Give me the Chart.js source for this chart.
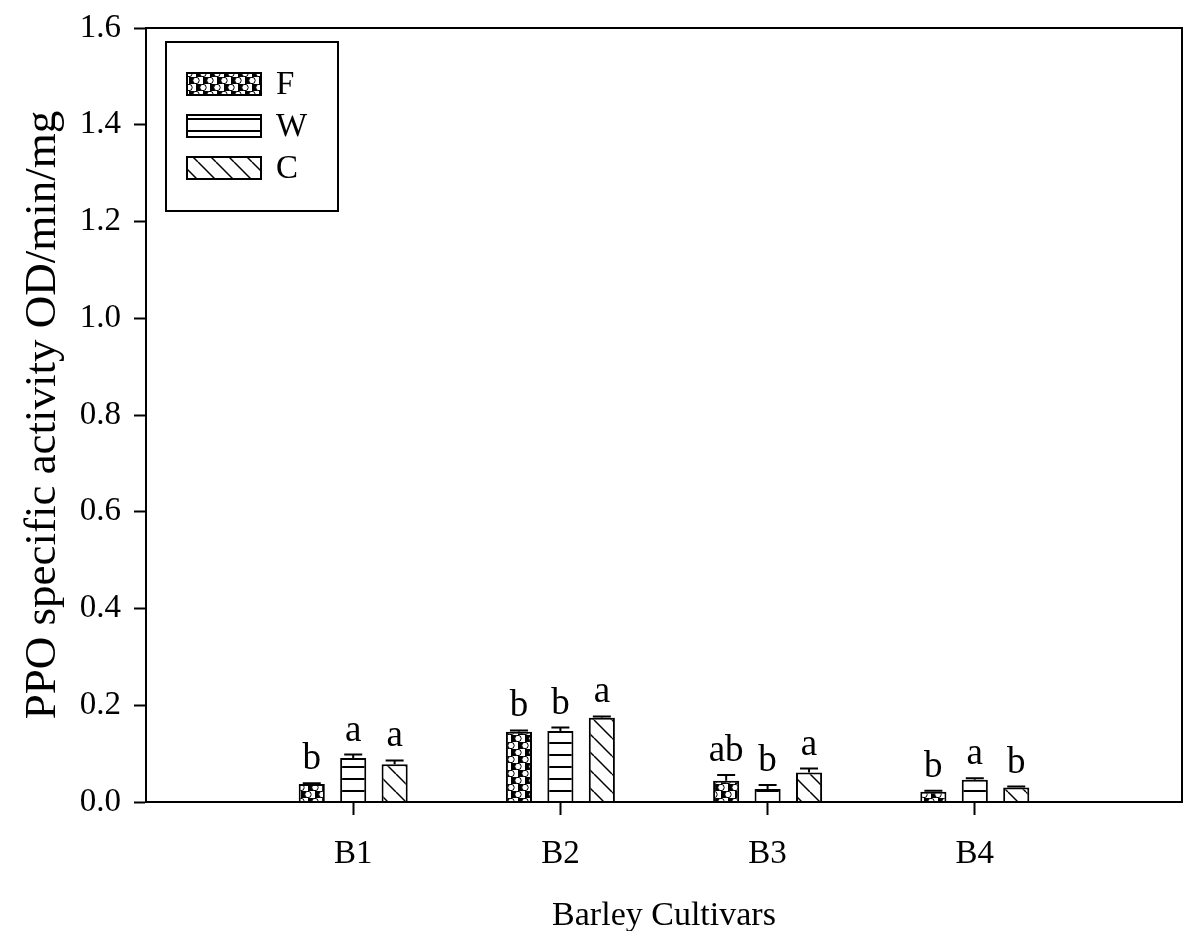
<!DOCTYPE html>
<html>
<head>
<meta charset="utf-8">
<script src="https://cdn.jsdelivr.net/npm/chart.js@4"></script>
<style>
  html, body { margin: 0; padding: 0; background: #fff; }
  canvas { display: block; }
</style>
</head>
<body>
<canvas id="chart" width="1184" height="931"></canvas>
<script>
// Barley cultivars and PPO specific activity per treatment
const cultivars = ['B1', 'B2', 'B3', 'B4'];
const seriesNames = ['F', 'W', 'C'];
const valuesF = [0.037, 0.145, 0.044, 0.021];
const valuesW = [0.091, 0.147, 0.027, 0.046];
const valuesC = [0.078, 0.174, 0.061, 0.030];
const errorsF = [0.002, 0.003, 0.012, 0.002];
const errorsW = [0.007, 0.007, 0.008, 0.003];
const errorsC = [0.008, 0.003, 0.008, 0.002];
const lettersF = ['b', 'b', 'ab', 'b'];
const lettersW = ['a', 'b', 'b', 'a'];
const lettersC = ['a', 'a', 'a', 'b'];
const yTicks = [0, 0.2, 0.4, 0.6, 0.8, 1.0, 1.2, 1.4, 1.6];

const SERIF = "'Liberation Serif', 'Times New Roman', serif";

// Fill patterns: dotted checker, horizontal lines, diagonal hatch
function makePattern(kind) {
  const c = document.createElement('canvas');
  const g = c.getContext('2d');
  if (kind === 'F') {
    c.width = 14; c.height = 14;
    g.fillStyle = '#fff'; g.fillRect(0, 0, 14, 14);
    g.fillStyle = '#000';
    g.fillRect(0, 0, 7, 7); g.fillRect(7, 7, 7, 7);
    g.lineWidth = 1; g.strokeStyle = '#000'; g.fillStyle = '#fff';
    [[7, 3.5], [0, 10.5], [14, 10.5]].forEach(([x, y]) => {
      g.beginPath(); g.arc(x, y, 3.2, 0, Math.PI * 2); g.fill(); g.stroke();
    });
  } else if (kind === 'W') {
    c.width = 12; c.height = 12;
    g.fillStyle = '#fff'; g.fillRect(0, 0, 12, 12);
    g.fillStyle = '#000'; g.fillRect(0, 10, 12, 2);
  } else {
    const s = 18;
    c.width = s; c.height = s;
    g.fillStyle = '#fff'; g.fillRect(0, 0, s, s);
    g.strokeStyle = '#000'; g.lineWidth = 1.5;
    for (let k = -1; k <= 1; k++) {
      g.beginPath(); g.moveTo(k * s, 0); g.lineTo(k * s + s, s); g.stroke();
    }
  }
  return g.createPattern(c, 'repeat');
}

const pad = arr => [null, ...arr, null];
const labels = ['', ...cultivars, ''];

const seriesValues = [valuesF, valuesW, valuesC];
const seriesErrors = [errorsF, errorsW, errorsC];
const seriesLetters = [lettersF, lettersW, lettersC];

const datasets = seriesNames.map((name, i) => ({
  label: name,
  data: pad(seriesValues[i]),
  errors: pad(seriesErrors[i]),
  letters: pad(seriesLetters[i]),
  backgroundColor: makePattern(name),
  borderColor: '#000',
  borderWidth: 2,
  barPercentage: 0.63,
  categoryPercentage: 0.6
}));

// Error bars and significance letters above each bar
const errorBarPlugin = {
  id: 'errorBars',
  afterDatasetsDraw(chart) {
    const ctx = chart.ctx;
    const y = chart.scales.y;
    ctx.save();
    chart.data.datasets.forEach((ds, di) => {
      const meta = chart.getDatasetMeta(di);
      meta.data.forEach((bar, i) => {
        const v = ds.data[i];
        if (v == null) return;
        const top = y.getPixelForValue(v + ds.errors[i]);
        const base = y.getPixelForValue(v);
        ctx.strokeStyle = '#000';
        ctx.lineWidth = 2;
        ctx.beginPath();
        ctx.moveTo(bar.x, base); ctx.lineTo(bar.x, top);
        ctx.moveTo(bar.x - 9, top); ctx.lineTo(bar.x + 9, top);
        ctx.stroke();
        ctx.fillStyle = '#000';
        ctx.font = '37px ' + SERIF;
        ctx.textAlign = 'center';
        ctx.textBaseline = 'alphabetic';
        ctx.fillText(ds.letters[i], bar.x, top - 14);
      });
    });
    ctx.restore();
  }
};

// Frame around the plotting area and the boxed legend
const framePlugin = {
  id: 'frame',
  afterDraw(chart) {
    const { ctx, chartArea: a } = chart;
    ctx.save();
    ctx.strokeStyle = '#000';
    ctx.lineWidth = 2;
    ctx.strokeRect(a.left, a.top, a.right - a.left, a.bottom - a.top);

    const lx = a.left + 20, ly = a.top + 14, lw = 172, lh = 169;
    ctx.strokeRect(lx, ly, lw, lh);
    chart.data.datasets.forEach((ds, i) => {
      const sy = ly + 31 + i * 42;
      ctx.fillStyle = ds.backgroundColor;
      ctx.fillRect(lx + 21, sy, 74, 22);
      ctx.strokeRect(lx + 21, sy, 74, 22);
      ctx.fillStyle = '#000';
      ctx.font = '33px ' + SERIF;
      ctx.textAlign = 'left';
      ctx.textBaseline = 'middle';
      ctx.fillText(ds.label, lx + 110, sy + 12);
    });
    ctx.restore();
  }
};

new Chart(document.getElementById('chart'), {
  type: 'bar',
  data: { labels, datasets },
  plugins: [errorBarPlugin, framePlugin],
  options: {
    responsive: false,
    animation: false,
    layout: { padding: { left: 0, right: 2, top: 28, bottom: 0 } },
    plugins: {
      legend: { display: false },
      tooltip: { enabled: false }
    },
    scales: {
      x: {
        offset: false,
        grid: {
          offset: false,
          drawOnChartArea: false,
          tickLength: 13,
          tickWidth: 2,
          tickColor: ctx => (ctx.tick && ctx.tick.label) ? '#000' : 'rgba(0,0,0,0)'
        },
        border: { color: '#000', width: 2 },
        ticks: {
          color: '#000',
          padding: 20,
          autoSkip: false,
          maxRotation: 0,
          font: { family: SERIF, size: 33 }
        },
        title: {
          display: true,
          text: 'Barley Cultivars',
          color: '#000',
          font: { family: SERIF, size: 34, lineHeight: 1 },
          padding: { top: 0, bottom: -2 }
        },
        afterFit(scale) {
          scale.height = 129;
          scale.paddingLeft = 0;
          scale.paddingRight = 0;
        }
      },
      y: {
        min: 0,
        max: 1.6,
        afterBuildTicks(scale) { scale.ticks = yTicks.map(v => ({ value: v })); },
        grid: {
          drawOnChartArea: false,
          tickLength: 12,
          tickWidth: 2,
          tickColor: '#000'
        },
        border: { color: '#000', width: 2 },
        ticks: {
          color: '#000',
          padding: 13,
          font: { family: SERIF, size: 33 },
          callback: v => Number(v).toFixed(1)
        },
        title: {
          display: true,
          text: 'PPO specific activity OD/min/mg',
          color: '#000',
          font: { family: SERIF, size: 45 },
          padding: { top: 16, bottom: 0 }
        },
        afterFit(scale) {
          scale.width = 146;
          scale.paddingTop = 0;
          scale.paddingBottom = 0;
        }
      }
    }
  }
});
</script>
</body>
</html>
